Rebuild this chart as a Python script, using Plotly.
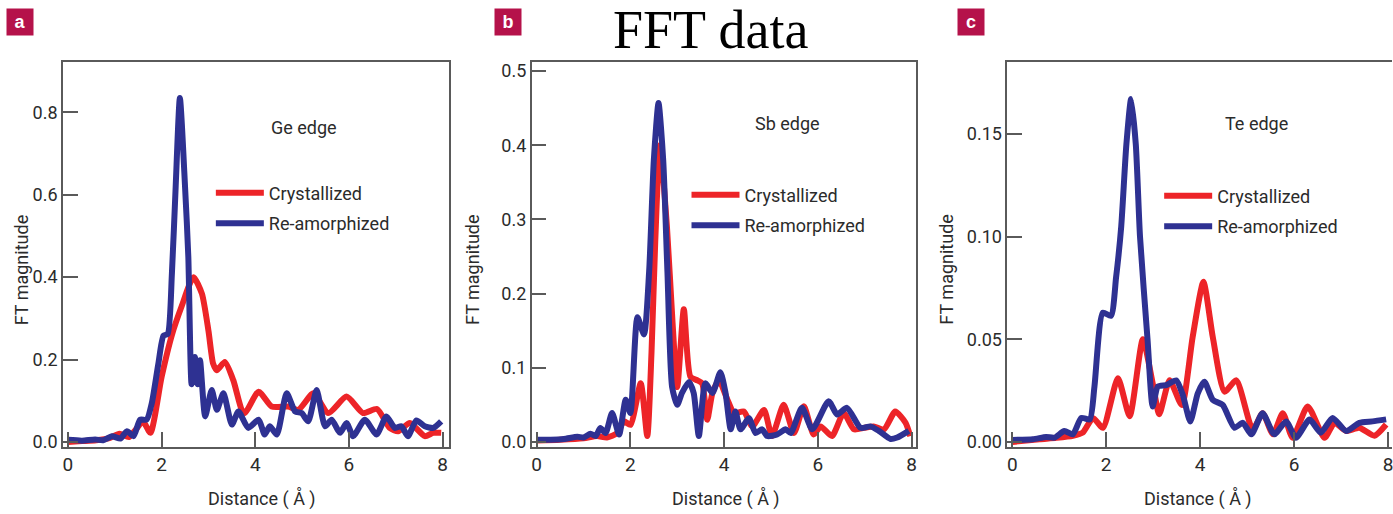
import plotly.graph_objects as go

W, H = 1393, 514

# ---------------- data ----------------
ge_cry_x = [0, 0.3, 0.6, 0.9, 1.1, 1.3, 1.45, 1.6, 1.76, 2.0, 2.22, 2.43, 2.68, 2.86, 3.0, 3.1, 3.18, 3.35, 3.53,
            3.71, 3.78, 4.07, 4.35, 4.7, 4.92, 5.24, 5.56, 5.95, 6.3, 6.6, 6.87, 7.05, 7.3, 7.62, 7.8, 7.97]
ge_cry_y = [0.0, 0.002, 0.004, 0.01, 0.02, 0.012, 0.03, 0.05, 0.022, 0.158, 0.26, 0.33, 0.40, 0.36, 0.27, 0.19,
            0.174, 0.194, 0.15, 0.078, 0.07, 0.122, 0.086, 0.086, 0.078, 0.118, 0.07, 0.11, 0.07, 0.08, 0.034,
            0.026, 0.046, 0.014, 0.022, 0.022]
ge_amo_x = [0, 0.3, 0.58, 0.75, 0.94, 1.12, 1.26, 1.4, 1.54, 1.68, 1.79, 1.93, 2.04, 2.13, 2.22, 2.3, 2.39, 2.5,
            2.57, 2.64, 2.71, 2.77, 2.82, 2.93, 3.07, 3.18, 3.32, 3.5, 3.64, 3.85, 4.07, 4.2, 4.31, 4.46, 4.67,
            4.85, 4.99, 5.13, 5.31, 5.49, 5.63, 5.81, 5.95, 6.09, 6.34, 6.59, 6.8, 6.98, 7.12, 7.26, 7.44, 7.62,
            7.8, 7.97]
ge_amo_y = [0.005, 0.003, 0.006, 0.004, 0.014, 0.008, 0.026, 0.014, 0.054, 0.054, 0.094, 0.19, 0.258, 0.262,
            0.41, 0.62, 0.835, 0.62, 0.45, 0.14, 0.206, 0.14, 0.198, 0.062, 0.126, 0.078, 0.118, 0.042, 0.074,
            0.034, 0.054, 0.018, 0.038, 0.018, 0.118, 0.074, 0.07, 0.05, 0.126, 0.038, 0.054, 0.022, 0.046,
            0.014, 0.054, 0.018, 0.062, 0.034, 0.038, 0.014, 0.052, 0.038, 0.034, 0.05]

sb_cry_x = [0, 0.5, 1.0, 1.29, 1.5, 1.72, 1.86, 2.0, 2.22, 2.36, 2.45, 2.53, 2.63, 2.78, 2.9, 3.0, 3.14, 3.28,
            3.43, 3.53, 3.64, 3.75, 3.89, 4.07, 4.21, 4.42, 4.6, 4.85, 5.02, 5.27, 5.49, 5.7, 5.91, 6.06, 6.3,
            6.55, 6.77, 6.98, 7.19, 7.41, 7.65, 7.87, 7.97]
sb_cry_y = [0.002, 0.003, 0.005, 0.008, 0.006, 0.012, 0.028, 0.023, 0.079, 0.008, 0.12, 0.27, 0.40, 0.29, 0.16,
            0.074, 0.179, 0.088, 0.083, 0.079, 0.03, 0.066, 0.083, 0.057, 0.039, 0.041, 0.021, 0.043, 0.008,
            0.05, 0.012, 0.048, 0.01, 0.021, 0.008, 0.039, 0.017, 0.019, 0.021, 0.017, 0.041, 0.026, 0.008]
sb_amo_x = [0, 0.3, 0.58, 0.87, 1.0, 1.15, 1.26, 1.36, 1.47, 1.61, 1.76, 1.9, 2.0, 2.15, 2.29, 2.4, 2.5, 2.6,
            2.7, 2.79, 2.89, 3.0, 3.1, 3.25, 3.35, 3.46, 3.6, 3.75, 3.92, 4.03, 4.14, 4.24, 4.35, 4.53, 4.67,
            4.81, 4.92, 5.13, 5.31, 5.42, 5.66, 5.88, 6.23, 6.41, 6.62, 6.91, 7.12, 7.3, 7.55, 7.69, 7.94]
sb_amo_y = [0.003, 0.003, 0.004, 0.007, 0.006, 0.011, 0.008, 0.019, 0.012, 0.039, 0.01, 0.057, 0.039, 0.168,
            0.145, 0.23, 0.38, 0.457, 0.38, 0.23, 0.074, 0.05, 0.066, 0.081, 0.066, 0.008, 0.079, 0.066, 0.094,
            0.066, 0.017, 0.041, 0.017, 0.032, 0.012, 0.017, 0.008, 0.01, 0.017, 0.012, 0.046, 0.017, 0.055,
            0.037, 0.046, 0.019, 0.021, 0.015, 0.004, 0.006, 0.015]

te_cry_x = [0, 0.58, 0.94, 1.29, 1.5, 1.72, 1.93, 2.25, 2.5, 2.78, 2.99, 3.13, 3.35, 3.61, 3.84, 4.07, 4.27,
            4.52, 4.77, 5.12, 5.33, 5.55, 5.76, 5.97, 6.29, 6.65, 6.86, 7.11, 7.39, 7.71, 7.96]
te_cry_y = [0.0, 0.0013, 0.002, 0.003, 0.0045, 0.0117, 0.0069, 0.031, 0.0125, 0.050, 0.0285, 0.0135, 0.030,
            0.018, 0.051, 0.078, 0.051, 0.0245, 0.030, 0.006, 0.014, 0.0037, 0.014, 0.002, 0.0173, 0.002,
            0.0093, 0.0053, 0.0069, 0.003, 0.0085]
te_amo_x = [0, 0.44, 0.72, 0.9, 1.11, 1.29, 1.47, 1.65, 1.75, 1.93, 2.1, 2.21, 2.32, 2.43, 2.53, 2.63, 2.72,
            2.88, 2.99, 3.1, 3.28, 3.49, 3.63, 3.79, 3.95, 4.09, 4.27, 4.48, 4.73, 4.91, 5.09, 5.33, 5.58, 5.83,
            6.04, 6.33, 6.57, 6.82, 7.11, 7.39, 7.67, 7.96]
te_amo_y = [0.001, 0.0013, 0.0024, 0.0021, 0.0053, 0.0037, 0.0117, 0.011, 0.027, 0.063, 0.0614, 0.08, 0.105,
            0.145, 0.167, 0.145, 0.1, 0.05, 0.0173, 0.027, 0.0277, 0.030, 0.023, 0.01, 0.0237, 0.0293, 0.0205,
            0.018, 0.0069, 0.0093, 0.0037, 0.014, 0.0037, 0.010, 0.002, 0.0109, 0.0045, 0.0117, 0.0053, 0.0093,
            0.010, 0.011]

series_names = ["Crystallized", "Re-amorphized"]
edge_labels = ["Ge edge", "Sb edge", "Te edge"]
panel_letters = ["a", "b", "c"]
x_ticks = [0, 2, 4, 6, 8]
y_ticks_a = [0.0, 0.2, 0.4, 0.6, 0.8]
y_ticks_b = [0.0, 0.1, 0.2, 0.3, 0.4, 0.5]
y_ticks_c = [0.0, 0.05, 0.10, 0.15]
y_ticktext_a = ["0.0", "0.2", "0.4", "0.6", "0.8"]
y_ticktext_b = ["0.0", "0.1", "0.2", "0.3", "0.4", "0.5"]
y_ticktext_c = ["0.00", "0.05", "0.10", "0.15"]

# ---------------- styling ----------------
RED = "#ED2428"
BLUE = "#2E3192"
AXC = "#5a5a5a"
TXT = "#2b2b2b"
FONT = "Roboto, Liberation Sans, sans-serif"
FS = 18


def px(v):
    return v / W


def py(v):
    return 1 - v / H


panels = [
    dict(cx=ge_cry_x, cy=ge_cry_y, ax=ge_amo_x, ay=ge_amo_y, dom=(63, 449), xr=[-0.107, 8.13],
         yr=[-0.012, 0.922], yt=y_ticks_a, ytt=y_ticktext_a, mirror_y=True,
         lab=(269, 127), leg=(211, 175), ylab=21, xlab=262, box=20),
    dict(cx=sb_cry_x, cy=sb_cry_y, ax=sb_amo_x, ay=sb_amo_y, dom=(532, 917), xr=[-0.107, 8.1],
         yr=[-0.0066, 0.512], yt=y_ticks_b, ytt=y_ticktext_b, mirror_y=True,
         lab=(754, 123), leg=(687, 177), ylab=473, xlab=727, box=508),
    dict(cx=te_cry_x, cy=te_cry_y, ax=te_amo_x, ay=te_amo_y, dom=(1008, 1393), xr=[-0.106, 8.085],
         yr=[-0.0024, 0.185], yt=y_ticks_c, ytt=y_ticktext_c, mirror_y=False,
         lab=(1224, 123), leg=(1160, 178), ylab=947, xlab=1199, box=972),
]

fig = go.Figure()
annotations = []
layout_axes = {}

for i, p in enumerate(panels):
    n = "" if i == 0 else str(i + 1)
    xa, ya = "x" + n, "y" + n
    legname = "legend" + n
    fig.add_trace(go.Scatter(x=p["cx"], y=p["cy"], mode="lines", name=series_names[0],
                             line=dict(color=RED, width=6, shape="spline", smoothing=0.6),
                             xaxis=xa, yaxis=ya, legend=legname, legendgroup=f"c{i}"))
    fig.add_trace(go.Scatter(x=p["ax"], y=p["ay"], mode="lines", name=series_names[1],
                             line=dict(color=BLUE, width=6, shape="spline", smoothing=0.6),
                             xaxis=xa, yaxis=ya, legend=legname, legendgroup=f"a{i}"))
    layout_axes["xaxis" + n] = dict(
        domain=[px(p["dom"][0]), min(1.0, px(p["dom"][1]))], range=p["xr"], anchor=ya,
        tickvals=x_ticks, ticks="inside", ticklen=15, tickwidth=1.5, tickcolor=AXC,
        showline=True, linecolor=AXC, linewidth=1.5, mirror=True, showgrid=False, zeroline=False,
        tickfont=dict(family=FONT, size=FS + 1, color=TXT), ticklabeloverflow="allow",
    )
    layout_axes["yaxis" + n] = dict(
        domain=[63 / H, 453 / H], range=p["yr"], anchor=xa,
        tickvals=p["yt"], ticktext=p["ytt"], ticks="inside", ticklen=15, tickwidth=1.5, tickcolor=AXC,
        showline=True, linecolor=AXC, linewidth=1.5, mirror=p["mirror_y"], showgrid=False, zeroline=False,
        tickfont=dict(family=FONT, size=FS, color=TXT),
    )
    layout_axes[legname] = dict(
        x=px(p["leg"][0]), y=py(p["leg"][1]), xanchor="left", yanchor="top",
        bgcolor="rgba(0,0,0,0)", borderwidth=0, tracegroupgap=4,
        font=dict(family=FONT, size=FS, color=TXT), itemwidth=48,
    )
    annotations.append(dict(text=edge_labels[i], x=px(p["lab"][0]), y=py(p["lab"][1]), xref="paper",
                            yref="paper", xanchor="left", yanchor="middle", showarrow=False,
                            font=dict(family=FONT, size=FS, color=TXT)))
    annotations.append(dict(text="FT magnitude", x=px(p["ylab"]), y=py(271), xref="paper", yref="paper",
                            xanchor="center", yanchor="middle", textangle=-90, showarrow=False,
                            font=dict(family=FONT, size=FS, color=TXT)))
    annotations.append(dict(text="Distance ( Å )", x=px(p["xlab"]), y=py(503), xref="paper", yref="paper",
                            xanchor="center", yanchor="middle", showarrow=False,
                            font=dict(family=FONT, size=FS, color=TXT)))
    annotations.append(dict(text="<b>" + panel_letters[i] + "</b>", x=px(p["box"]), y=py(20), xref="paper",
                            yref="paper", xanchor="center", yanchor="middle", showarrow=False,
                            bgcolor="#B5124A", width=22, height=22, borderpad=2,
                            font=dict(family="Liberation Sans, Arial, sans-serif", size=18, color="white")))

annotations.append(dict(text="FFT data", x=px(712), y=1.0, xref="paper", yref="paper",
                        xanchor="center", yanchor="top", yshift=4, showarrow=False,
                        font=dict(family="Liberation Serif, Times New Roman, serif", size=54, color="black")))

fig.update_layout(
    width=W, height=H, margin=dict(l=0, r=0, t=0, b=0),
    paper_bgcolor="white", plot_bgcolor="white",
    annotations=annotations, showlegend=True,
    **layout_axes,
)

fig.write_html("out.html")
